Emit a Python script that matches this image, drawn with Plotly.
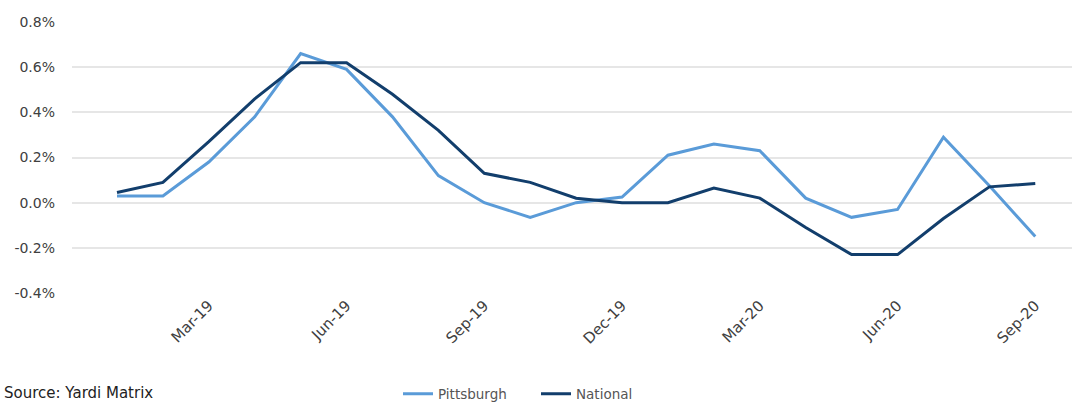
import plotly.graph_objects as go

months = ["Jan-19", "Feb-19", "Mar-19", "Apr-19", "May-19", "Jun-19", "Jul-19",
          "Aug-19", "Sep-19", "Oct-19", "Nov-19", "Dec-19", "Jan-20", "Feb-20",
          "Mar-20", "Apr-20", "May-20", "Jun-20", "Jul-20", "Aug-20", "Sep-20"]

# Month-over-month rent change, %
pittsburgh = [0.03, 0.03, 0.18, 0.38, 0.66, 0.59, 0.38, 0.12, 0.00, -0.065, 0.00,
              0.025, 0.21, 0.26, 0.23, 0.02, -0.065, -0.03, 0.29, 0.075, -0.15]
national = [0.045, 0.09, 0.27, 0.46, 0.62, 0.62, 0.48, 0.32, 0.13, 0.09, 0.02,
            0.00, 0.00, 0.065, 0.02, -0.11, -0.23, -0.23, -0.07, 0.07, 0.085]

tick_labels = ["Mar-19", "Jun-19", "Sep-19", "Dec-19", "Mar-20", "Jun-20", "Sep-20"]
y_ticks = [-0.4, -0.2, 0.0, 0.2, 0.4, 0.6, 0.8]

idx = list(range(len(months)))
tick_pos = [months.index(t) for t in tick_labels]

FONT = "DejaVu Sans, sans-serif"

fig = go.Figure()
fig.add_trace(go.Scatter(x=idx, y=pittsburgh, mode="lines", name="Pittsburgh",
                         line=dict(color="#5a9bd8", width=3), customdata=months,
                         hovertemplate="%{customdata}: %{y:.2f}%<extra>Pittsburgh</extra>"))
fig.add_trace(go.Scatter(x=idx, y=national, mode="lines", name="National",
                         line=dict(color="#123e6c", width=3), customdata=months,
                         hovertemplate="%{customdata}: %{y:.2f}%<extra>National</extra>"))

fig.update_layout(
    width=1074, height=404,
    margin=dict(l=72, r=2, t=22, b=111),
    paper_bgcolor="white", plot_bgcolor="white",
    font=dict(family=FONT, color="#404040", size=14),
    showlegend=True,
    legend=dict(orientation="h", x=0.326, xanchor="left",
                yref="container", y=0.025, yanchor="middle",
                font=dict(size=13.5, color="#555555"), itemwidth=30,
                entrywidth=93, entrywidthmode="pixels",
                tracegroupgap=0, borderwidth=0),
    xaxis=dict(range=[-0.98, 20.8], tickmode="array", tickvals=tick_pos,
               ticktext=tick_labels, tickangle=-45, showgrid=False, zeroline=False,
               showline=False, ticks="", tickfont=dict(size=15, color="#404040")),
    yaxis=dict(range=[-0.4, 0.8], tickmode="array", tickvals=y_ticks,
               ticktext=[f"{v:.1f}%" for v in y_ticks], showgrid=True,
               gridcolor="#e6e6e6", gridwidth=1.5, zeroline=False, showline=False,
               ticks="", ticklabelstandoff=16, tickfont=dict(size=14, color="#404040")),
    annotations=[dict(text="Source: Yardi Matrix", xref="paper", yref="paper",
                      x=-0.07, y=-0.37, xanchor="left", yanchor="middle",
                      showarrow=False, font=dict(family=FONT, size=15, color="#222222"))],
)

fig.write_html("out.html")
